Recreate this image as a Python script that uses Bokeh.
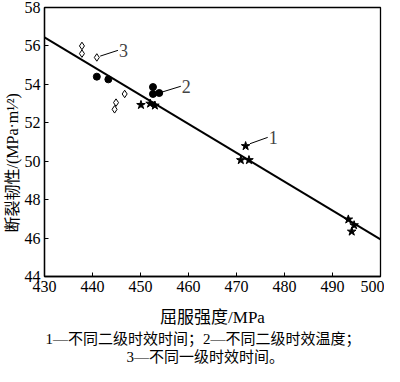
from bokeh.plotting import figure
from bokeh.models import Label, FixedTicker, Range1d, Title
from bokeh.embed import file_html
from bokeh.resources import INLINE

# ---- data ----
# series 1: different secondary ageing times (stars)
s1_x = [450.1, 452.0, 453.0, 471.9, 470.9, 472.6, 493.3, 494.5, 494.0]
s1_y = [52.93, 53.0, 52.9, 50.79, 50.06, 50.06, 46.97, 46.67, 46.34]
# series 2: different secondary ageing temperatures (filled circles)
s2_x = [440.9, 443.3, 452.6, 452.6, 453.9]
s2_y = [54.4, 54.26, 53.86, 53.5, 53.55]
# series 3: different primary ageing times (open diamonds)
s3_x = [437.8, 437.8, 440.9, 446.7, 444.9, 444.6]
s3_y = [56.0, 55.6, 55.4, 53.5, 53.05, 52.7]
# fitted line end points
fit_x = [430, 500]
fit_y = [56.45, 45.93]

x_ticks = [430, 440, 450, 460, 470, 480, 490, 500]
y_ticks = [44, 46, 48, 50, 52, 54, 56, 58]

# callout labels: (text, line start x, y, line end x, y)
callouts = [
    ("1", 472.8, 50.91, 476.5, 51.24),
    ("2", 454.5, 53.60, 458.4, 53.90),
    ("3", 441.6, 55.47, 445.3, 55.77),
]

x_title = "屈服强度/MPa"
y_title = "断裂韧性/(MPa·m¹⁄²)"
caption_1 = "1—不同二级时效时间；2—不同二级时效温度；"
caption_2 = "3—不同一级时效时间。"

FONT = "'Liberation Serif', 'Noto Sans CJK SC'"

p = figure(width=384, height=366, output_backend="svg", toolbar_location=None,
           x_range=Range1d(430, 500), y_range=Range1d(44, 58),
           min_border_left=44, min_border_right=4, min_border_top=7,
           min_border_bottom=87)
p.background_fill_color = "white"
p.border_fill_color = "white"
p.outline_line_color = "black"
p.outline_line_width = 1.3
p.grid.visible = False

for ax in (p.xaxis[0], p.yaxis[0]):
    ax.axis_line_color = "black"
    ax.axis_line_width = 1.3
    ax.major_tick_in = 4
    ax.major_tick_out = 0
    ax.minor_tick_line_color = None
    ax.major_tick_line_color = "black"
    ax.major_label_text_font = FONT
    ax.major_label_text_font_size = "16px"
    ax.major_label_text_color = "black"
    ax.axis_label_text_font = FONT
    ax.axis_label_text_font_style = "normal"
    ax.axis_label_text_color = "black"

p.xaxis.ticker = FixedTicker(ticks=x_ticks)
p.yaxis.ticker = FixedTicker(ticks=y_ticks)
p.xaxis.major_label_standoff = 4
p.yaxis.major_label_standoff = 4
p.xaxis.axis_label = x_title
p.xaxis.axis_label_text_font_size = "17px"
p.xaxis.axis_label_standoff = 13

# y title as a side title so that its start can be placed exactly
p.add_layout(Title(text=y_title, align="left", offset=44, standoff=2,
                   text_font=FONT, text_font_size="16px", text_font_style="normal",
                   text_color="black"), "left")

# fitted line and data
p.line(fit_x, fit_y, line_color="black", line_width=2)
p.scatter(s1_x, s1_y, marker="star", size=9, fill_color="black", line_color="black")
p.scatter(s2_x, s2_y, marker="circle", size=7, fill_color="black", line_color="black")
p.scatter(s3_x, s3_y, marker="diamond", size=7.5, fill_color="white", line_color="black",
          line_width=1)

# callouts
for t, x0, y0, x1, y1 in callouts:
    p.segment(x0=[x0], y0=[y0], x1=[x1], y1=[y1], line_color="black", line_width=1)
    p.add_layout(Label(x=x1 + 0.2, y=y1, text=t, text_font="Liberation Serif",
                       text_font_size="18px", text_baseline="middle", text_align="left"))

# captions below the axis title
p.add_layout(Title(text=caption_1, align="left", offset=1, standoff=-2,
                   text_font=FONT, text_font_size="15px", text_font_style="normal",
                   text_color="black"), "below")
p.add_layout(Title(text=caption_2, align="left", offset=82, standoff=3,
                   text_font=FONT, text_font_size="15px", text_font_style="normal",
                   text_color="black"), "below")

open("out.html", "w").write(file_html(p, INLINE))
